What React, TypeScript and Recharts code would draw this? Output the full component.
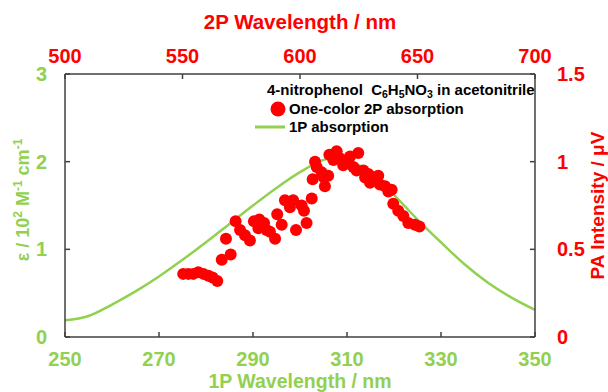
import { ComposedChart, XAxis, YAxis, Line, Scatter, Label } from 'recharts';

// 1P absorption spectrum (bottom / left axes)
const onePWavelength = [250, 255, 260, 265, 270, 275, 280, 285, 290, 295, 300, 305, 308, 310, 315, 320, 325, 330, 335, 340, 345, 350];
const onePEpsilon = [0.19, 0.24, 0.37, 0.52, 0.69, 0.88, 1.08, 1.29, 1.5, 1.7, 1.88, 2.02, 2.05, 2.02, 1.88, 1.62, 1.34, 1.08, 0.83, 0.62, 0.45, 0.31];

// one-color 2P photoacoustic signal (top / right axes)
const twoPWavelength = [
  550.3, 552.5, 554.6, 556.7, 558.9, 561.0, 562.8, 564.8, 566.7, 568.5, 570.5, 572.6, 574.5, 576.6, 578.7,
  580.4, 582.3, 582.7, 584.7, 585.8, 587.2, 589.4, 590.3, 592.2, 593.6, 595.7, 597.1, 598.3, 600.7, 601.7,
  602.8, 605.0, 605.4, 606.4, 607.1, 609.2, 610.2, 610.6, 612.0, 612.5, 614.2, 615.6, 617.0, 618.4, 619.9,
  621.3, 622.7, 624.1, 624.8, 627.0, 627.7, 629.1, 629.8, 631.2, 633.3, 634.0, 636.2, 637.6, 639.0, 639.7,
  641.8, 644.0, 646.1, 648.9, 650.8,
];
const twoPIntensity = [
  0.36, 0.36, 0.36, 0.37, 0.36, 0.35, 0.34, 0.32, 0.44, 0.56, 0.47, 0.66, 0.61, 0.58, 0.55,
  0.66, 0.62, 0.67, 0.65, 0.61, 0.6, 0.56, 0.7, 0.64, 0.78, 0.74, 0.78, 0.61, 0.75, 0.72,
  0.65, 0.79, 0.9, 1.0, 0.97, 0.94, 0.91, 0.86, 0.92, 1.04, 1.01, 1.06, 1.02, 0.98, 1.01,
  1.03, 0.97, 0.95, 1.05, 0.95, 0.91, 0.93, 0.88, 0.91, 0.92, 0.87, 0.86, 0.83, 0.84, 0.76,
  0.72, 0.69, 0.65, 0.64, 0.63,
];

const bottomTicks = [250, 270, 290, 310, 330, 350];
const topTicks = [500, 550, 600, 650, 700];
const leftTicks = [0, 1, 2, 3];
const rightTicks = [0, 0.5, 1, 1.5];

const GREEN = '#92d050';
const RED = '#ff0000';
const FRAME = '#404040';
const FONT = '"Liberation Sans", Arial, sans-serif';

const curve = onePWavelength.map((wl, i) => ({ wl, eps: onePEpsilon[i] }));
const points = twoPWavelength.map((wl2, i) => ({ wl2, pa: twoPIntensity[i] }));

const tickStyle = (fill: string) => ({ fill, fontSize: 20, fontWeight: 'bold', fontFamily: FONT });

const Dot = (props: any) => <circle cx={props.cx} cy={props.cy} r={6} fill={RED} />;

const EpsLabel = () => (
  <text
    x={0}
    y={0}
    transform="translate(29,200) rotate(-90)"
    textAnchor="middle"
    fill={GREEN}
    fontSize={18}
    fontWeight="bold"
    fontFamily={FONT}
  >
    ε / 10<tspan dy={-7} fontSize={12}>2</tspan>
    <tspan dy={7}> M</tspan>
    <tspan dy={-7} fontSize={12}>-1</tspan>
    <tspan dy={7}> cm</tspan>
    <tspan dy={-7} fontSize={12}>-1</tspan>
  </text>
);

const legendText = { position: 'absolute' as const, fontFamily: FONT, fontWeight: 'bold' as const, fontSize: 15, color: '#000', whiteSpace: 'nowrap' as const, lineHeight: '16px' };
const subStyle = { fontSize: 10.5, verticalAlign: -3, lineHeight: 0 };

export default function App() {
  return (
    <div style={{ position: 'relative', width: 608, height: 392, background: '#fff' }}>
      <style>{'body{margin:0}'}</style>
      <ComposedChart width={608} height={392} margin={{ top: 0, right: 0, bottom: 0, left: 0 }}>
        <XAxis
          xAxisId="bottom"
          orientation="bottom"
          type="number"
          dataKey="wl"
          domain={[250, 350]}
          ticks={bottomTicks}
          height={55}
          tickSize={-5}
          tickMargin={20}
          tick={tickStyle(GREEN)}
          axisLine={{ stroke: FRAME, strokeWidth: 1.5 }}
          tickLine={{ stroke: FRAME, strokeWidth: 1.5 }}
        >
          <Label value="1P Wavelength / nm" position="insideBottom" offset={4} fill={GREEN} fontSize={19.5} fontWeight="bold" fontFamily={FONT} />
        </XAxis>
        <XAxis
          xAxisId="top"
          orientation="top"
          type="number"
          dataKey="wl2"
          domain={[500, 700]}
          ticks={topTicks}
          height={74}
          tickSize={-5}
          tickMargin={16}
          tick={tickStyle(RED)}
          axisLine={{ stroke: FRAME, strokeWidth: 1.5 }}
          tickLine={{ stroke: FRAME, strokeWidth: 1.5 }}
        >
          <Label value="2P Wavelength / nm" position="insideTop" offset={14} fill={RED} fontSize={20.5} fontWeight="bold" fontFamily={FONT} />
        </XAxis>
        <YAxis
          yAxisId="left"
          orientation="left"
          type="number"
          dataKey="eps"
          domain={[0, 3]}
          ticks={leftTicks}
          width={65}
          tickSize={-5}
          tickMargin={23}
          tick={tickStyle(GREEN)}
          axisLine={{ stroke: FRAME, strokeWidth: 1.5 }}
          tickLine={{ stroke: FRAME, strokeWidth: 1.5 }}
        >
          <Label content={<EpsLabel />} />
        </YAxis>
        <YAxis
          yAxisId="right"
          orientation="right"
          type="number"
          dataKey="pa"
          domain={[0, 1.5]}
          ticks={rightTicks}
          width={73}
          tickSize={-5}
          tickMargin={27}
          tick={tickStyle(RED)}
          axisLine={{ stroke: FRAME, strokeWidth: 1.5 }}
          tickLine={{ stroke: FRAME, strokeWidth: 1.5 }}
        >
          <Label
            value="PA Intensity / μV"
            angle={-90}
            position="insideRight"
            offset={11}
            fill={RED}
            fontSize={19}
            fontWeight="bold"
            fontFamily={FONT}
            style={{ textAnchor: 'middle' }}
          />
        </YAxis>
        <Line
          xAxisId="bottom"
          yAxisId="left"
          data={curve}
          dataKey="eps"
          type="monotone"
          stroke={GREEN}
          strokeWidth={2.5}
          dot={false}
          activeDot={false}
          isAnimationActive={false}
        />
        <Scatter
          xAxisId="top"
          yAxisId="right"
          data={points}
          dataKey="pa"
          fill={RED}
          shape={<Dot />}
          isAnimationActive={false}
        />
      </ComposedChart>
      <div style={{ ...legendText, left: 267, top: 82 }}>
        4-nitrophenol&nbsp; C<sub style={subStyle}>6</sub>H<sub style={subStyle}>5</sub>NO<sub style={subStyle}>3</sub> in acetonitrile
      </div>
      <svg style={{ position: 'absolute', left: 250, top: 98 }} width={40} height={40}>
        <circle cx={28} cy={11} r={7.5} fill={RED} />
        <line x1={5} x2={35} y1={29} y2={29} stroke={GREEN} strokeWidth={3} />
      </svg>
      <div style={{ ...legendText, left: 289, top: 101 }}>One-color 2P absorption</div>
      <div style={{ ...legendText, left: 289, top: 119 }}>1P absorption</div>
    </div>
  );
}
